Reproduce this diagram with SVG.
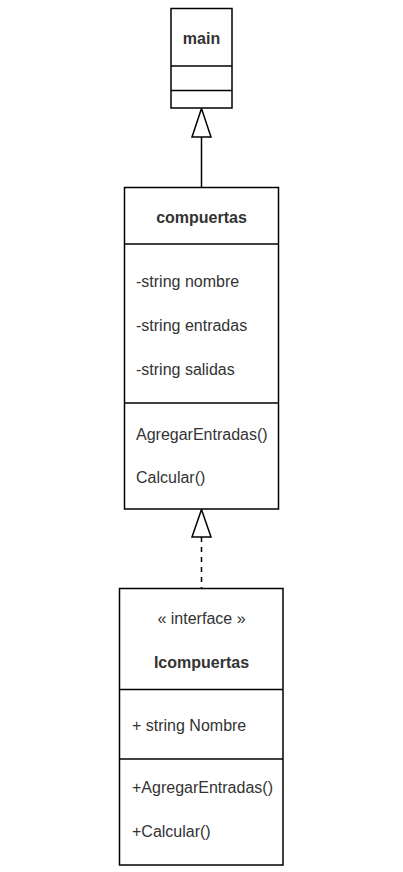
<svg xmlns="http://www.w3.org/2000/svg" width="403" height="872" viewBox="0 0 403 872">
<defs>
<style>
.box{fill:#fff;stroke:#000;stroke-width:1.5}
.sep{stroke:#000;stroke-width:1.5}
text{font-family:"Liberation Sans",Arial,sans-serif;font-size:16px;fill:#333}
.b{font-weight:bold;text-anchor:middle}
.c{text-anchor:middle}
.edge{fill:none;stroke:#000;stroke-width:1.5}
.tri{fill:#fff;stroke:#000;stroke-width:1.5}
</style>
</defs>
<rect width="403" height="872" fill="#fff"/>
<g id="connectors">
<line class="edge" x1="201.5" y1="137" x2="201.5" y2="187"/>
<polygon class="tri" points="201.5,108.5 192,137 211,137"/>
<line class="edge" x1="201.5" y1="537" x2="201.5" y2="588" stroke-dasharray="5,5"/>
<polygon class="tri" points="201.5,509.5 192,537 211,537"/>
</g>
<g id="main">
<rect class="box" x="171" y="8.5" width="61" height="99.5"/>
<line class="sep" x1="171" y1="66" x2="232" y2="66"/>
<line class="sep" x1="171" y1="90.5" x2="232" y2="90.5"/>
<text class="b" x="201.5" y="44">main</text>
</g>
<g id="compuertas">
<rect class="box" x="124.5" y="187.5" width="154" height="321.5"/>
<line class="sep" x1="124.5" y1="244" x2="278.5" y2="244"/>
<line class="sep" x1="124.5" y1="403" x2="278.5" y2="403"/>
<text class="b" x="201.5" y="223">compuertas</text>
<text x="136" y="287">-string nombre</text>
<text x="136" y="331">-string entradas</text>
<text x="136" y="375">-string salidas</text>
<text x="136" y="440">AgregarEntradas()</text>
<text x="136" y="483">Calcular()</text>
</g>
<g id="Icompuertas">
<rect class="box" x="119.5" y="588.5" width="163.5" height="276.5"/>
<line class="sep" x1="119.5" y1="689.5" x2="283" y2="689.5"/>
<line class="sep" x1="119.5" y1="759" x2="283" y2="759"/>
<text class="c" x="201.5" y="624">« interface »</text>
<text class="b" x="201.5" y="668">Icompuertas</text>
<text x="132" y="731">+ string Nombre</text>
<text x="132" y="793">+AgregarEntradas()</text>
<text x="132" y="837">+Calcular()</text>
</g>
</svg>
